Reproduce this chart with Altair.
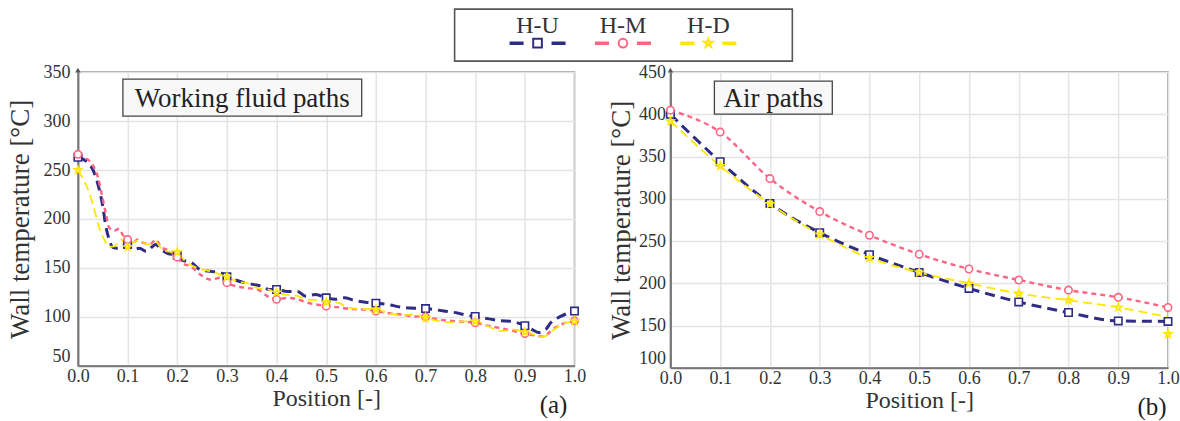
import altair as alt
import pandas as pd

FONT = "Liberation Serif"
SERIES = ["H-U", "H-M", "H-D"]
COLORS = ["#2f2c86", "#ff6482", "#ffe600"]
DASHES = [[10, 6], [5, 4], [9, 5]]
WIDTHS = [3.0, 1.8, 2.6]
STAR = ("M0,-1L0.2245,-0.309L0.951,-0.309L0.363,0.118L0.588,0.809L0,0.382"
        "L-0.588,0.809L-0.363,0.118L-0.951,-0.309L-0.2245,-0.309Z")
SHAPES = ["square", "circle", STAR]

pos_ticks = [0.0, 0.1, 0.2, 0.3, 0.4, 0.5, 0.6, 0.7, 0.8, 0.9, 1.0]
wf_ticks = [50, 100, 150, 200, 250, 300, 350]
air_ticks = [100, 150, 200, 250, 300, 350, 400, 450]

# ---------- (a) Working fluid paths : line traces ----------
wf_hu_x = [0.000, 0.019, 0.033, 0.043, 0.050, 0.056, 0.063, 0.070, 0.080, 0.090, 0.100, 0.110, 0.124, 0.137,
           0.157, 0.167, 0.180, 0.200, 0.210, 0.227, 0.247, 0.268, 0.288, 0.300, 0.315, 0.335, 0.355, 0.372,
           0.385, 0.400, 0.422, 0.442, 0.459, 0.479, 0.500, 0.519, 0.536, 0.556, 0.579, 0.600, 0.626, 0.650,
           0.670, 0.700, 0.724, 0.744, 0.764, 0.780, 0.800, 0.828, 0.851, 0.871, 0.900, 0.915, 0.928, 0.942,
           0.952, 0.972, 1.000]
wf_hu_t = [263, 258, 247, 230, 213, 193, 179, 171, 170, 173, 174, 169, 170, 167,
           174, 169, 165, 163, 158, 156, 148, 146.5, 145, 141, 138, 135, 133, 131,
           128, 128, 126, 126, 121, 123, 119.5, 118, 119.5, 117, 115, 114, 112.5, 110,
           109, 108.5, 107, 105.5, 104, 102, 100.5, 98, 96, 95.5, 91, 87, 84, 87,
           94, 100.5, 106]

wf_hm_x = [0.000, 0.016, 0.030, 0.040, 0.049, 0.056, 0.063, 0.073, 0.083, 0.090, 0.100, 0.110, 0.120, 0.133,
           0.147, 0.157, 0.167, 0.180, 0.200, 0.210, 0.227, 0.247, 0.268, 0.288, 0.300, 0.321, 0.341, 0.362,
           0.382, 0.400, 0.422, 0.442, 0.462, 0.482, 0.500, 0.522, 0.549, 0.576, 0.600, 0.623, 0.650, 0.677,
           0.700, 0.730, 0.764, 0.800, 0.831, 0.865, 0.900, 0.921, 0.938, 0.955, 0.972, 1.000]
wf_hm_t = [266, 262, 255, 243, 223, 206, 191, 188, 190, 184, 179, 175.5, 179, 175.5,
           175, 179, 171.5, 168.5, 161, 155, 151.5, 143, 138, 140, 135, 131, 129.5, 128,
           121, 118, 119.5, 118, 114.5, 112.5, 111, 110, 108, 107.5, 106, 104, 102.5, 100.5,
           100, 97, 95.5, 94, 90.5, 87, 83, 81, 80, 87, 92, 96]

wf_hd_x = [0.000, 0.009, 0.023, 0.033, 0.043, 0.053, 0.063, 0.073, 0.087, 0.100, 0.110, 0.124, 0.140, 0.157,
           0.167, 0.180, 0.200, 0.210, 0.227, 0.247, 0.268, 0.288, 0.300, 0.321, 0.341, 0.362, 0.382, 0.400,
           0.422, 0.442, 0.462, 0.482, 0.500, 0.522, 0.549, 0.576, 0.600, 0.623, 0.650, 0.677, 0.700, 0.724,
           0.750, 0.777, 0.800, 0.824, 0.851, 0.878, 0.900, 0.918, 0.938, 0.955, 0.972, 1.000]
wf_hd_t = [250, 242, 226.5, 209.5, 191, 179, 171.5, 172, 179, 171.5, 175.5, 178, 174, 177,
           170.5, 167, 166, 160, 153, 149, 146.5, 143, 141, 136, 134.5, 129.5, 128, 125,
           122.5, 121.5, 117.5, 117.5, 115, 114.5, 109, 108, 107.5, 104.5, 101.5, 102.5, 99, 96,
           94.5, 95.5, 95.5, 91, 85.5, 87, 84.5, 82, 80, 85.5, 92, 95.5]

# (a) markers at every 0.1
wf_hu_m = [263, 174, 163, 141, 128, 119.5, 114, 108.5, 100.5, 91, 106]
wf_hm_m = [266, 179, 161, 135, 118, 111, 106, 100, 94, 83, 96]
wf_hd_m = [250, 171.5, 166, 141, 125, 115, 107.5, 99, 95.5, 84.5, 95.5]

# ---------- (b) Air paths ----------
air_hu = [400, 344, 294.5, 260, 234, 213, 194, 178, 165.5, 155.5, 155]
air_hm = [405, 379, 324, 285, 257, 234.5, 217, 204, 192, 183.5, 171.5]
air_hd = [392, 339, 294, 258, 230, 213, 200, 188, 180, 171.5, 140]
air_hd_line = [392, 339, 294, 258, 230, 213, 200, 188, 180, 171.5, 160]


def long_df(pairs):
    rows = []
    for name, xs, ts in pairs:
        for xv, tv in zip(xs, ts):
            rows.append({"series": name, "x": xv, "t": tv})
    return pd.DataFrame(rows)


wf_lines = long_df([("H-U", wf_hu_x, wf_hu_t), ("H-M", wf_hm_x, wf_hm_t), ("H-D", wf_hd_x, wf_hd_t)])
wf_marks = long_df([("H-U", pos_ticks, wf_hu_m), ("H-M", pos_ticks, wf_hm_m), ("H-D", pos_ticks, wf_hd_m)])
air_lines = long_df([("H-U", pos_ticks, air_hu), ("H-M", pos_ticks, air_hm), ("H-D", pos_ticks, air_hd_line)])
air_marks = long_df([("H-U", pos_ticks, air_hu), ("H-M", pos_ticks, air_hm), ("H-D", pos_ticks, air_hd)])

color_scale = alt.Scale(domain=SERIES, range=COLORS)
ONE = alt.Data(values=[{"a": 1}])


def panel(lines_df, marks_df, ydom, yvals, title, box, label, lab_dx, lab_pad, title_pad, w, h):
    x = alt.X("x:Q", scale=alt.Scale(domain=[0, 1], nice=False),
              axis=alt.Axis(values=pos_ticks, format=".1f", title="Position [-]",
                            labelPadding=2, titlePadding=1, labelFlush=False))
    y = alt.Y("t:Q", scale=alt.Scale(domain=ydom, nice=False),
              axis=alt.Axis(values=yvals, title="Wall temperature [°C]", titleFontSize=27,
                            labelPadding=lab_pad, titlePadding=title_pad, labelFlush=False,
                            labelBaseline={"condition": {"test": f"datum.value === {yvals[0]}", "value": "bottom"},
                                           "value": "middle"}))
    lines = alt.Chart(lines_df).mark_line(interpolate="monotone").encode(
        x=x, y=y,
        color=alt.Color("series:N", scale=color_scale, legend=None),
        strokeDash=alt.StrokeDash("series:N", scale=alt.Scale(domain=SERIES, range=DASHES), legend=None),
        strokeWidth=alt.StrokeWidth("series:N", scale=alt.Scale(domain=SERIES, range=WIDTHS), legend=None),
    )
    pts = alt.Chart(marks_df).mark_point(filled=True, fill="white", size=55, strokeWidth=1.6, opacity=1).encode(
        x=x, y=y,
        stroke=alt.Stroke("series:N", scale=color_scale, legend=None),
        shape=alt.Shape("series:N", scale=alt.Scale(domain=SERIES, range=SHAPES), legend=None),
    )
    bx0, by0, bx1, by1 = box
    rect = alt.Chart(ONE).mark_rect(fill="#f8f8f8", stroke="#444", strokeWidth=1.3).encode(
        x=alt.value(bx0), x2=alt.value(bx1), y=alt.value(by0), y2=alt.value(by1))
    txt = alt.Chart(ONE).mark_text(font=FONT, fontSize=27, color="#222", align="center", baseline="middle").encode(
        x=alt.value((bx0 + bx1) / 2), y=alt.value((by0 + by1) / 2 + 1), text=alt.value(title))
    lab = alt.Chart(ONE).mark_text(font=FONT, fontSize=25, color="#222", align="center", baseline="middle").encode(
        x=alt.value(w - lab_dx), y=alt.value(h + 39), text=alt.value(label))
    arrow = alt.Chart(ONE).mark_point(shape="triangle-up", filled=True, color="#555", size=30, opacity=1).encode(
        x=alt.value(0), y=alt.value(-2))
    return alt.layer(lines, pts, rect, txt, lab, arrow).properties(width=w, height=h)


left = panel(wf_lines, wf_marks, [50, 350], wf_ticks, "Working fluid paths",
             (45, 7, 284, 44), "(a)", 21, 8, 8, 497, 294)
right = panel(air_lines, air_marks, [100, 450], air_ticks, "Air paths",
              (44, 9, 162, 42), "(b)", 16, 5, 3, 498, 296)

ORGX = 77  # left plot origin in page pixels; legend chart shares it
legend_x = alt.X("series:N", scale=alt.Scale(domain=SERIES, range=[537 - ORGX, 708 - ORGX], type="point", padding=0),
                 axis=None)
leg_df = pd.DataFrame({"series": SERIES})
leg_box = alt.Chart(ONE).mark_rect(fill="white", stroke="#555", strokeWidth=1.6).encode(
    x=alt.value(454 - ORGX), x2=alt.value(792 - ORGX), y=alt.value(0), y2=alt.value(52))
leg_txt = alt.Chart(leg_df).mark_text(font=FONT, fontSize=24, color="#333", baseline="middle").encode(
    x=legend_x, text="series:N", y=alt.value(17))
leg_line = alt.Chart(leg_df).mark_point(filled=False, size=3136, strokeWidth=3.5, opacity=1).encode(
    x=legend_x, y=alt.value(34), shape=alt.value("M-1,0L-0.5,0M0.5,0L1,0"),
    stroke=alt.Stroke("series:N", scale=color_scale, legend=None))
leg_mark = alt.Chart(leg_df).mark_point(filled=True, fill="white", size=75, strokeWidth=2, opacity=1).encode(
    x=legend_x, y=alt.value(34),
    stroke=alt.Stroke("series:N", scale=color_scale, legend=None),
    shape=alt.Shape("series:N", scale=alt.Scale(domain=SERIES, range=SHAPES), legend=None))
legend = alt.layer(leg_box, leg_line, leg_mark, leg_txt).properties(
    width=800, height=52, view=alt.ViewBackground(strokeWidth=0, stroke="transparent"))

chart = alt.vconcat(
    legend,
    alt.hconcat(left, right, spacing=20),
    spacing=0,
).properties(
    padding={"left": 6, "top": 8, "right": 0, "bottom": 0},
    background="white",
).configure_view(
    stroke="#8a8a8a", strokeWidth=1.5
).configure_axis(
    labelFont=FONT, titleFont=FONT, labelFontSize=18, titleFontSize=24, titleFontWeight="normal",
    labelColor="#333", titleColor="#333", gridColor="#e4e4e4", gridWidth=1.5,
    domainColor="#777", domainWidth=2, ticks=False,
)

chart.save("out.html", embed_options={"renderer": "svg", "actions": False})
